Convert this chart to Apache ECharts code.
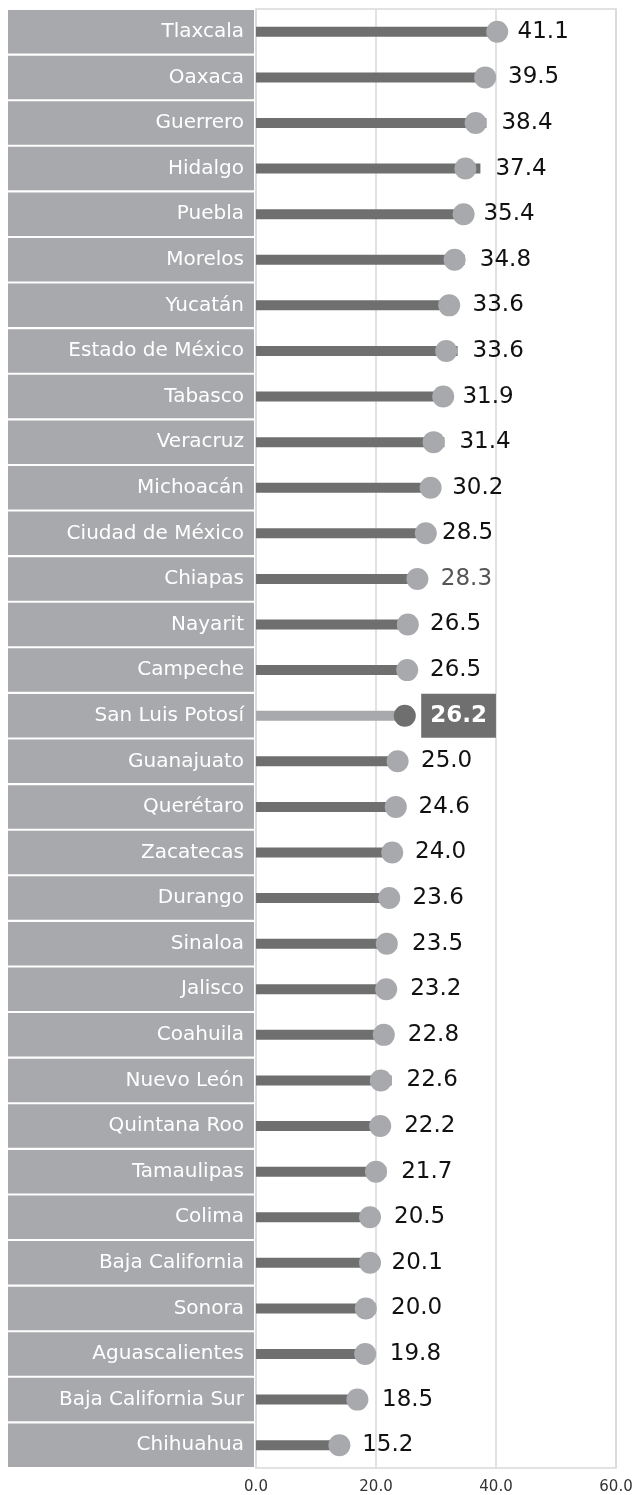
<!DOCTYPE html>
<html>
<head>
<meta charset="utf-8">
<script src="https://cdn.jsdelivr.net/npm/echarts@6/dist/echarts.min.js"></script>
<style>
  html, body { margin: 0; padding: 0; background: #fff; }
  #main { width: 636px; height: 1495px; }
</style>
</head>
<body>
<div id="main"></div>
<script>
// estados (de arriba hacia abajo)
var estados = ['Tlaxcala', 'Oaxaca', 'Guerrero', 'Hidalgo', 'Puebla', 'Morelos', 'Yucatán',
  'Estado de México', 'Tabasco', 'Veracruz', 'Michoacán', 'Ciudad de México', 'Chiapas',
  'Nayarit', 'Campeche', 'San Luis Potosí', 'Guanajuato', 'Querétaro', 'Zacatecas', 'Durango',
  'Sinaloa', 'Jalisco', 'Coahuila', 'Nuevo León', 'Quintana Roo', 'Tamaulipas', 'Colima',
  'Baja California', 'Sonora', 'Aguascalientes', 'Baja California Sur', 'Chihuahua'];

// valor de cada barra (etiqueta)
var valores = [41.1, 39.5, 38.4, 37.4, 35.4, 34.8, 33.6, 33.6, 31.9, 31.4, 30.2, 28.5, 28.3,
  26.5, 26.5, 26.2, 25.0, 24.6, 24.0, 23.6, 23.5, 23.2, 22.8, 22.6, 22.2, 21.7, 20.5,
  20.1, 20.0, 19.8, 18.5, 15.2];

// posicion de los circulos
var puntos = [40.2, 38.2, 36.6, 34.9, 34.6, 33.1, 32.2, 31.7, 31.2, 29.6, 29.1, 28.3, 26.9,
  25.3, 25.2, 24.8, 23.6, 23.3, 22.7, 22.2, 21.8, 21.7, 21.3, 20.8, 20.7, 20.0, 19.0,
  19.0, 18.3, 18.2, 16.9, 13.9];

var ejeX = [0, 20, 40, 60];
var destacado = 'San Luis Potosí';

var oscuro = '#6f6f6f';
var claro = '#a8a9ad';
var fuente = 'DejaVu Sans';

var myChart = echarts.init(document.getElementById('main'));

var barData = valores.map(function (v, i) {
  var d = { value: v };
  if (estados[i] === destacado) {
    d.itemStyle = { color: claro };
    d.label = {
      distance: 8,
      backgroundColor: oscuro,
      color: '#fff',
      fontWeight: 'bold',
      fontSize: 23,
      lineHeight: 28,
      padding: [8, 9, 8, 9]
    };
  } else if (estados[i] === 'Chiapas') {
    d.label = { color: '#555' };
  }
  return d;
});

var dotData = puntos.map(function (v, i) {
  var d = { value: [v, estados[i]] };
  if (estados[i] === destacado) d.itemStyle = { color: oscuro };
  return d;
});

var option = {
  animation: false,
  textStyle: { fontFamily: fuente },
  grid: {
    left: 256, right: 20, top: 9, bottom: 27,
    show: true, borderColor: '#d9d9d9', borderWidth: 1.5
  },
  xAxis: {
    type: 'value',
    min: ejeX[0], max: ejeX[ejeX.length - 1], interval: 20,
    axisLine: { show: false },
    axisTick: { show: false },
    splitLine: { lineStyle: { color: '#d9d9d9', width: 1.5 } },
    axisLabel: {
      color: '#333', fontSize: 15, fontFamily: fuente, margin: 12,
      formatter: function (v) { return v.toFixed(1); }
    }
  },
  yAxis: {
    type: 'category',
    data: estados,
    inverse: true,
    axisLine: { show: false },
    axisTick: { show: false },
    axisLabel: {
      interval: 0,
      margin: 2,
      color: '#fff',
      fontSize: 20,
      fontFamily: fuente,
      backgroundColor: claro,
      width: 236,
      height: 38.5,
      lineHeight: 38.5,
      align: 'right',
      padding: [5, 10, 0, 0]
    }
  },
  series: [
    {
      type: 'bar',
      data: barData,
      barWidth: 10,
      itemStyle: { color: oscuro },
      label: {
        show: true,
        position: 'right',
        distance: 15,
        color: '#111',
        fontSize: 23,
        fontFamily: fuente,
        formatter: function (p) { return p.value.toFixed(1); }
      },
      z: 2
    },
    {
      type: 'scatter',
      data: dotData,
      symbolSize: 22,
      itemStyle: { color: claro, opacity: 1 },
      z: 3
    }
  ]
};

myChart.setOption(option);
</script>
</body>
</html>
